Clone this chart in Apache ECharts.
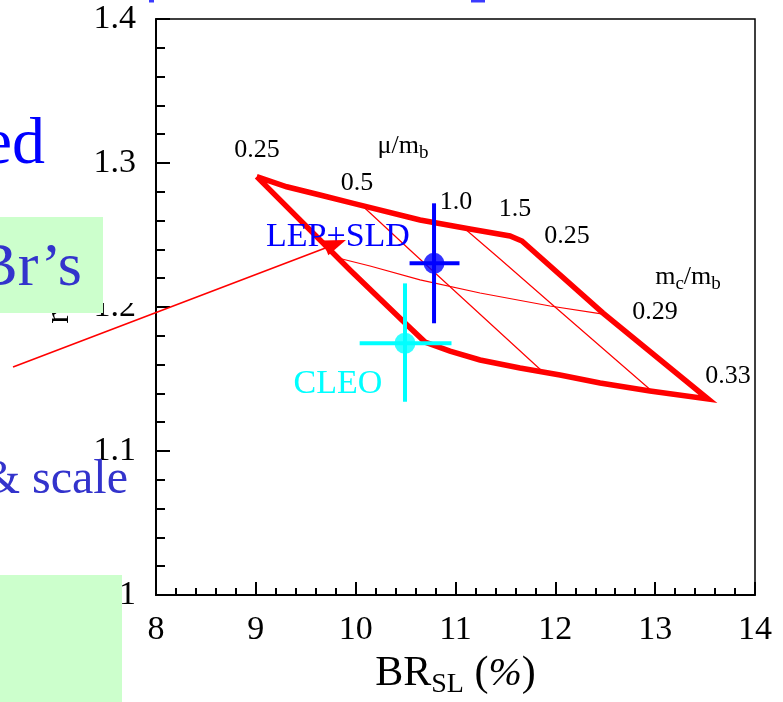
<!DOCTYPE html>
<html><head><meta charset="utf-8">
<script src="https://cdn.jsdelivr.net/npm/echarts/dist/echarts.min.js"></script>
<style>html,body{margin:0;padding:0;background:#fff}#c{width:783px;height:702px}</style>
</head><body><div id="c"></div>
<script>
// ---- data (BR_SL in %, ratio on y) ----
const xTicks = [8, 9, 10, 11, 12, 13, 14];
const yTicks = [1, 1.1, 1.2, 1.3, 1.4];
const xMinorStep = 0.2, yMinorStep = 0.02;

// theory grid: curves of constant mc/mb
const mc025 = [[9.009,1.2905],[9.309,1.2835],[9.643,1.2778],[9.976,1.2720],[10.645,1.2604],[11.145,1.2542],[11.546,1.2493],[11.666,1.2458]];
const mc029 = [[9.823,1.2340],[10.144,1.2285],[10.645,1.2188],[11.246,1.2097],[11.947,1.2007],[12.478,1.1951]];
const mc033 = [[10.695,1.1757],[10.945,1.1694],[11.246,1.1632],[11.646,1.1576],[12.047,1.1528],[12.448,1.1472],[12.948,1.1417],[13.530,1.1361]];
// curves of constant mu/mb
const mu025 = [[9.009,1.2905],[9.943,1.2257],[10.494,1.1889],[10.695,1.1757]];
const mu05  = [[10.064,1.2705],[10.544,1.2396],[11.145,1.2014],[11.877,1.1549]];
const mu10  = [[11.085,1.2549],[11.446,1.2333],[11.997,1.2000],[12.978,1.1410]];
const mu15  = [[11.666,1.2458],[12.478,1.1958],[13.530,1.1361]];

// measurements
const lepX = 10.785, lepY = 1.2303, lepXErr = [10.54, 11.04], lepYErr = [1.1887, 1.2720];
const cleoX = 10.494, cleoY = 1.1748, cleoXErr = [10.04, 10.96], cleoYErr = [1.1342, 1.2164];

// annotation texts
const muValues = ['0.25', '0.5', '1.0', '1.5'];
const mcValues = ['0.25', '0.29', '0.33'];
const expNames = ['LEP+SLD', 'CLEO'];

// ---- anchors for annotation text (data coordinates) ----
const muLabelAt = [[9.012,1.3090],[10.013,1.2861],[11.005,1.2729],[11.596,1.2681]];
const mcLabelAt = [[12.117,1.2493],[12.998,1.1965],[13.730,1.1521]];
const muTitleAt = [10.474,1.3118];
const mcTitleAt = [13.329,1.2208];
const expLabelAt = [[9.823,1.2486],[9.823,1.1465]];
const arrowFrom = [6.568, 1.1583], arrowTo = [9.903, 1.2465];

const SERIF = '"Liberation Serif","Times New Roman",serif';
const RED = '#ff0000', BLUE = '#0000ff', CYAN = '#00ffff';
const GRID = {left:156, right:28, top:19, bottom:107};
const GW = 783 - GRID.left - GRID.right, GH = 702 - GRID.top - GRID.bottom;

const boundary = [].concat(mc025, mu15.slice(1), mc033.slice().reverse().slice(1), mu025.slice().reverse().slice(1));

function lineSeries(name, data, color, width) {
  return {name, type:'line', data, showSymbol:false, symbol:'none', silent:true,
    lineStyle:{color, width, join:'miter', miterLimit:6, cap:'butt'}, z:3};
}
const tickStyle = {color:'#000', width:2};
// minor-tick axes sit on the opposite side and are shifted back onto the main axis line
function minorAxis(pos, min, max, step, len, off) {
  return {type:'value', position:pos, min, max, interval:step, offset:off,
    axisLine:{show:false}, axisLabel:{show:false}, splitLine:{show:false},
    axisTick:{show:true, inside:false, length:len, lineStyle:tickStyle}};
}

const chart = echarts.init(document.getElementById('c'), null, {renderer:'canvas'});
const option = {
  animation:false,
  backgroundColor:'#ffffff',
  grid:Object.assign({show:true, borderColor:'#000', borderWidth:1.5, outerBoundsMode:'none', containLabel:false}, GRID),
  xAxis:[{type:'value', position:'bottom', min:xTicks[0], max:xTicks[xTicks.length-1], interval:1,
    name:'{a|BR}{s|SL}{a| (}{p|%}{a|)}', nameLocation:'middle', nameGap:54,
    nameTextStyle:{color:'#000', rich:{
      a:{fontSize:42, fontFamily:SERIF, color:'#000'},
      s:{fontSize:28, fontFamily:SERIF, color:'#000', padding:[22,0,0,0]},
      p:{fontSize:40, fontFamily:SERIF, color:'#000', fontStyle:'italic'}}},
    axisLine:{show:true, lineStyle:{color:'#000', width:2}},
    axisTick:{show:true, inside:true, length:13, lineStyle:tickStyle},
    splitLine:{show:false},
    axisLabel:{color:'#000', fontSize:34, fontFamily:SERIF, margin:18, showMinLabel:true, showMaxLabel:true,
      formatter:v => { const t = xTicks.find(t => Math.abs(t-v) < 1e-6); return String(t !== undefined ? t : v); }}},
    minorAxis('top', xTicks[0], xTicks[xTicks.length-1], xMinorStep, 7, -GH)],
  yAxis:[{type:'value', position:'left', min:yTicks[0], max:yTicks[yTicks.length-1], interval:0.1,
    axisLine:{show:true, lineStyle:{color:'#000', width:2}},
    axisTick:{show:true, inside:true, length:14, lineStyle:tickStyle},
    splitLine:{show:false},
    axisLabel:{color:'#000', fontSize:34, fontFamily:SERIF, margin:20, padding:[11,0,0,0], showMinLabel:true, showMaxLabel:true,
      formatter:v => { const t = yTicks.find(t => Math.abs(t-v) < 1e-6); return String(t !== undefined ? t : v); }}},
    minorAxis('right', yTicks[0], yTicks[yTicks.length-1], yMinorStep, 9, -GW)],
  series:[
    lineSeries('mc/mb = 0.29', mc029, RED, 1.2),
    lineSeries('mu/mb = 0.5', mu05, RED, 1.2),
    lineSeries('mu/mb = 1.0', mu10, RED, 1.2),
    lineSeries('boundary', boundary, RED, 5.5),
    lineSeries('LEP+SLD x', [[lepXErr[0],lepY],[lepXErr[1],lepY]], BLUE, 4),
    lineSeries('LEP+SLD y', [[lepX,lepYErr[0]],[lepX,lepYErr[1]]], BLUE, 4),
    lineSeries('CLEO x', [[cleoXErr[0],cleoY],[cleoXErr[1],cleoY]], CYAN, 4),
    lineSeries('CLEO y', [[cleoX,cleoYErr[0]],[cleoX,cleoYErr[1]]], CYAN, 4),
    {name:'LEP+SLD', type:'scatter', data:[[lepX,lepY]], symbol:'circle', symbolSize:21, itemStyle:{color:BLUE}, z:5},
    {name:'CLEO', type:'scatter', data:[[cleoX,cleoY]], symbol:'circle', symbolSize:21, itemStyle:{color:CYAN}, z:5}
  ]
};
chart.setOption(option);

const P = p => chart.convertToPixel({xAxisIndex:0, yAxisIndex:0}, p);
function txt(p, text, size, color, extra) {
  const q = P(p);
  return {type:'text', x:q[0], y:q[1], z:60,
    style:Object.assign({text, font:size+'px '+SERIF, fontSize:size, fontFamily:SERIF, fill:color,
      align:'center', textAlign:'center', verticalAlign:'middle', textVerticalAlign:'middle'}, extra||{})};
}
const g = [];
muValues.forEach((t,i) => g.push(txt(muLabelAt[i], t, 26, '#000')));
mcValues.forEach((t,i) => g.push(txt(mcLabelAt[i], t, 26, '#000')));
g.push(txt(muTitleAt, '{a|μ/m}{s|b}', 26, '#000', {rich:{a:{fontSize:26, fontFamily:SERIF, fill:'#000'}, s:{fontSize:19, fontFamily:SERIF, fill:'#000', padding:[14,0,0,0]}}}));
g.push(txt(mcTitleAt, '{a|m}{s|c}{a|/m}{s|b}', 26, '#000', {rich:{a:{fontSize:26, fontFamily:SERIF, fill:'#000'}, s:{fontSize:19, fontFamily:SERIF, fill:'#000', padding:[14,0,0,0]}}}));
g.push(txt(expLabelAt[0], expNames[0], 34, BLUE));
g.push(txt(expLabelAt[1], expNames[1], 34, CYAN));

// annotation arrow
const a0 = P(arrowFrom), a1 = P(arrowTo);
const dx = a1[0]-a0[0], dy = a1[1]-a0[1], L = Math.hypot(dx,dy), ux = dx/L, uy = dy/L;
const hl = 22, hw = 8;
const bx = a1[0]-ux*hl, by = a1[1]-uy*hl;
g.push({type:'line', z:70, shape:{x1:a0[0], y1:a0[1], x2:bx, y2:by}, style:{stroke:RED, lineWidth:1.6}});
g.push({type:'polygon', z:70, shape:{points:[[a1[0],a1[1]],[bx-uy*hw, by+ux*hw],[bx+uy*hw, by-ux*hw]]}, style:{fill:RED}});

// slide overlay pieces around the chart
g.push({type:'rect', z:40, shape:{x:103, y:217, width:47, height:86}, style:{fill:'#ffffff'}});
g.push({type:'text', z:45, x:59, y:318, rotation:Math.PI/2, style:{text:'r', font:'34px '+SERIF, fill:'#000', align:'center', textAlign:'center', verticalAlign:'middle', textVerticalAlign:'middle'}});
g.push({type:'rect', z:50, shape:{x:0, y:217, width:103, height:96}, style:{fill:'#ccffcc'}});
g.push({type:'rect', z:50, shape:{x:0, y:575, width:122, height:127}, style:{fill:'#ccffcc'}});
g.push({type:'rect', z:50, shape:{x:149, y:0, width:5, height:2.5}, style:{fill:'#3b3bff'}});
g.push({type:'rect', z:50, shape:{x:471, y:0, width:14, height:2.5}, style:{fill:'#3b3bff'}});
g.push({type:'text', z:55, x:45, y:146, style:{text:'ed', font:'66px '+SERIF, fill:'#0000ff', align:'right', textAlign:'right', verticalAlign:'middle', textVerticalAlign:'middle'}});
g.push({type:'text', z:55, x:82, y:269, style:{text:'Br’s', font:'62px '+SERIF, fill:'#3333cc', align:'right', textAlign:'right', verticalAlign:'middle', textVerticalAlign:'middle'}});
g.push({type:'text', z:55, x:128, y:480, style:{text:'& scale', font:'48px '+SERIF, fill:'#3333cc', align:'right', textAlign:'right', verticalAlign:'middle', textVerticalAlign:'middle'}});

chart.setOption({graphic:{elements:g}});
</script>
</body></html>
